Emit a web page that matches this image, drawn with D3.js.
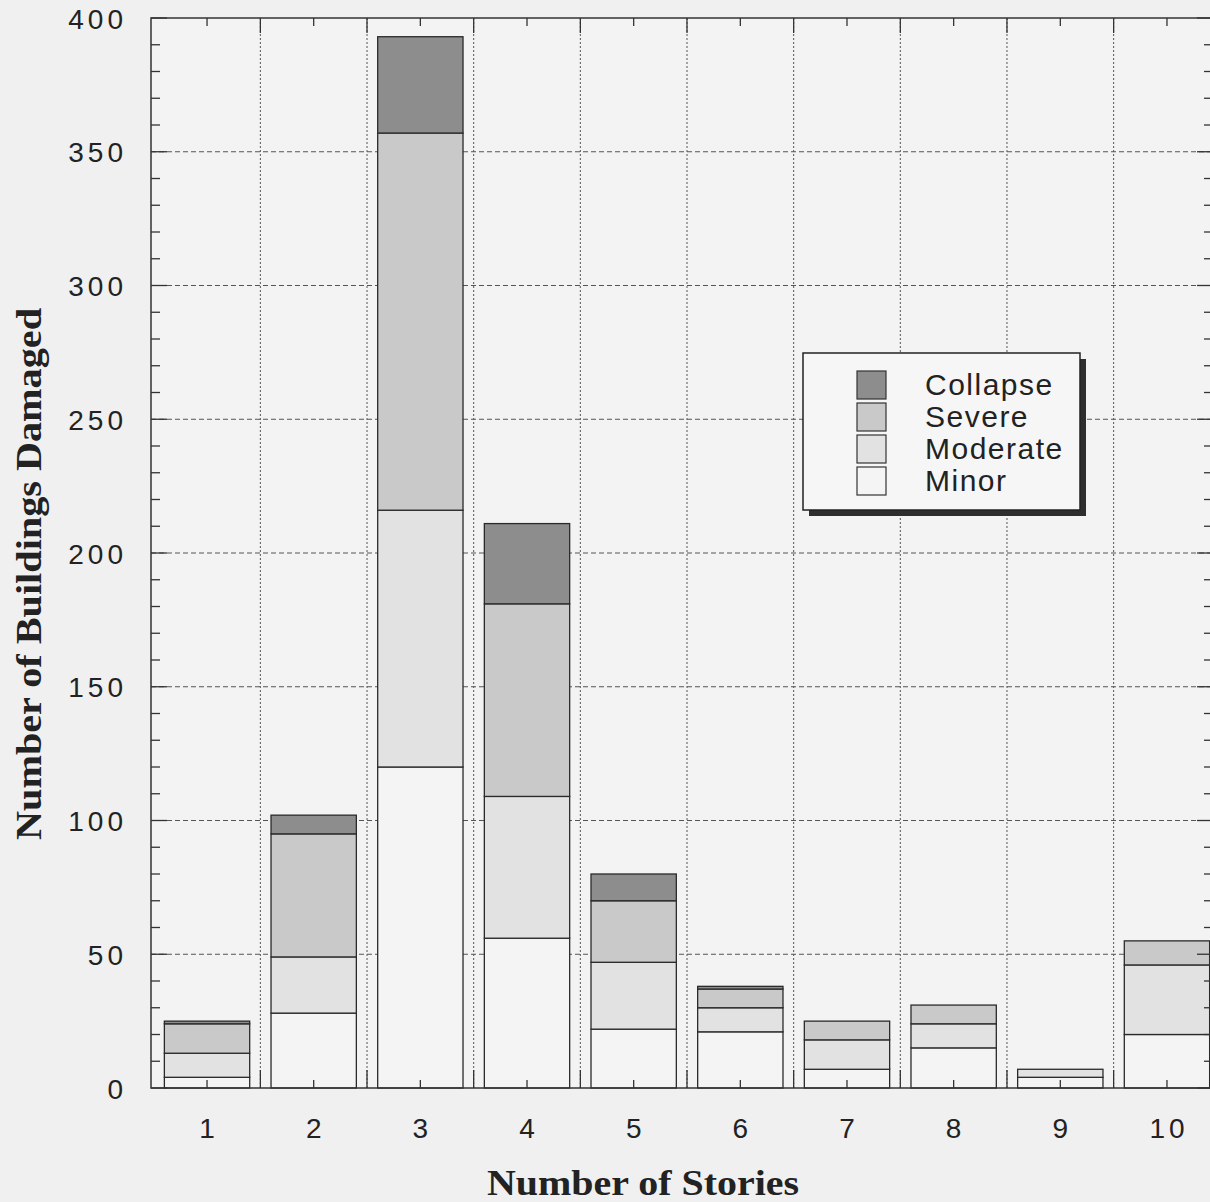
<!DOCTYPE html>
<html>
<head>
<meta charset="utf-8">
<script src="https://cdn.jsdelivr.net/npm/d3@7"></script>
<style>
  html, body { margin: 0; padding: 0; background: #f0f0f0; }
  svg { display: block; }
</style>
</head>
<body>
<script>
// ---- data ----
const categories = ["1", "2", "3", "4", "5", "6", "7", "8", "9", "10"];
const minorValues    = [4, 28, 120, 56, 22, 21, 7, 15, 4, 20];
const moderateValues = [9, 21, 96, 53, 25, 9, 11, 9, 3, 26];
const severeValues   = [11, 46, 141, 72, 23, 7, 7, 7, 0, 9];
const collapseValues = [1, 7, 36, 30, 10, 1, 0, 0, 0, 0];
const seriesKeys = ["Minor", "Moderate", "Severe", "Collapse"];
const legendOrder = ["Collapse", "Severe", "Moderate", "Minor"];
const yTickValues = [0, 50, 100, 150, 200, 250, 300, 350, 400];
const xTitle = "Number of Stories";
const yTitle = "Number of Buildings Damaged";

const rows = categories.map((c, i) => ({
  cat: c,
  Minor: minorValues[i],
  Moderate: moderateValues[i],
  Severe: severeValues[i],
  Collapse: collapseValues[i]
}));

const W = 1210, H = 1202;
const fills = { Collapse: "#8d8d8d", Severe: "#c9c9c9", Moderate: "#e2e2e2", Minor: "#f4f4f4" };

const svg = d3.select("body").append("svg").attr("width", W).attr("height", H);
svg.append("rect").attr("width", W).attr("height", H).attr("fill", "#f0f0f0");

const frameLeft = 151, frameRight = 1213, frameTop = 18, frameBottom = 1088;

const x = d3.scaleBand().domain(categories).range([153.7, 1220.3]).paddingInner(0.2).paddingOuter(0.1);
const y = d3.scaleLinear().domain([0, 400]).range([frameBottom, frameTop]);

const step = x.step();
const boundaryX = c => x(c) - step * x.paddingInner() / 2;
const centerX = c => x(c) + x.bandwidth() / 2;

// plot background
svg.append("rect").attr("x", frameLeft).attr("y", frameTop)
  .attr("width", frameRight - frameLeft).attr("height", frameBottom - frameTop)
  .attr("fill", "#f3f3f3");

// grid
const grid = svg.append("g");
grid.selectAll("line.h").data(yTickValues.filter(v => v > 0 && v < 400)).join("line")
  .attr("x1", frameLeft).attr("x2", frameRight)
  .attr("y1", d => y(d)).attr("y2", d => y(d))
  .attr("stroke", "#555").attr("stroke-width", 1).attr("stroke-dasharray", "5,3");
grid.selectAll("line.v").data(categories.slice(1)).join("line")
  .attr("x1", d => boundaryX(d)).attr("x2", d => boundaryX(d))
  .attr("y1", frameTop).attr("y2", frameBottom)
  .attr("stroke", "#555").attr("stroke-width", 1).attr("stroke-dasharray", "2,2");

// stacked bars
const stacked = d3.stack().keys(seriesKeys)(rows);
const barG = svg.append("g");
stacked.forEach(layer => {
  barG.append("g").selectAll("rect").data(layer.filter(d => d[1] - d[0] > 0)).join("rect")
    .attr("x", d => x(d.data.cat))
    .attr("width", x.bandwidth())
    .attr("y", d => y(d[1]))
    .attr("height", d => y(d[0]) - y(d[1]))
    .attr("fill", fills[layer.key])
    .attr("stroke", "#2a2a2a")
    .attr("stroke-width", 1.3);
});

// frame
svg.append("rect").attr("x", frameLeft).attr("y", frameTop)
  .attr("width", frameRight - frameLeft).attr("height", frameBottom - frameTop)
  .attr("fill", "none").attr("stroke", "#333").attr("stroke-width", 1.5);

// y ticks (minor every 10, major every 50) on both sides, pointing inward
const yMinor = d3.range(0, 401, 10);
const tickG = svg.append("g").attr("stroke", "#333").attr("stroke-width", 1.3);
tickG.selectAll("line.yl").data(yMinor).join("line")
  .attr("x1", frameLeft).attr("x2", d => frameLeft + (d % 50 === 0 ? 16 : 9))
  .attr("y1", d => y(d)).attr("y2", d => y(d));
tickG.selectAll("line.yr").data(yMinor).join("line")
  .attr("x1", frameRight).attr("x2", d => frameRight - (d % 50 === 0 ? 16 : 9))
  .attr("y1", d => y(d)).attr("y2", d => y(d));
// x ticks: short at centers, long at boundaries
tickG.selectAll("line.xb").data(categories).join("line")
  .attr("x1", d => centerX(d)).attr("x2", d => centerX(d))
  .attr("y1", frameBottom).attr("y2", frameBottom - 8);
tickG.selectAll("line.xt").data(categories).join("line")
  .attr("x1", d => centerX(d)).attr("x2", d => centerX(d))
  .attr("y1", frameTop).attr("y2", frameTop + 8);
tickG.selectAll("line.xbb").data(categories.slice(1)).join("line")
  .attr("x1", d => boundaryX(d)).attr("x2", d => boundaryX(d))
  .attr("y1", frameBottom).attr("y2", frameBottom - 18);
tickG.selectAll("line.xtb").data(categories.slice(1)).join("line")
  .attr("x1", d => boundaryX(d)).attr("x2", d => boundaryX(d))
  .attr("y1", frameTop).attr("y2", frameTop + 15);

// y tick labels
const labelFont = "'Liberation Sans', Arial, Helvetica, sans-serif";
const yAxis = d3.axisLeft(y).tickValues(yTickValues).tickSize(0).tickPadding(0);
const yAxisG = svg.append("g").attr("transform", `translate(127,0)`).call(yAxis);
yAxisG.select(".domain").remove();
yAxisG.selectAll("text")
  .attr("font-family", labelFont).attr("font-size", 28).attr("fill", "#222")
  .attr("letter-spacing", "4px").attr("dy", "0.36em");

// x tick labels
const xAxis = d3.axisBottom(x).tickSize(0).tickPadding(0);
const xAxisG = svg.append("g").attr("transform", `translate(2,1118)`).call(xAxis);
xAxisG.select(".domain").remove();
xAxisG.selectAll("text")
  .attr("font-family", labelFont).attr("font-size", 28).attr("fill", "#222")
  .attr("letter-spacing", "4px").attr("dy", "0.72em");

// axis titles
const titleFont = "'Liberation Serif', 'Times New Roman', serif";
svg.append("text").attr("x", 487).attr("y", 1195)
  .attr("font-family", titleFont).attr("font-size", 36).attr("font-weight", "bold")
  .attr("fill", "#222").attr("textLength", 312).attr("lengthAdjust", "spacingAndGlyphs")
  .text(xTitle);
svg.append("text").attr("transform", "translate(41,574) rotate(-90)")
  .attr("text-anchor", "middle")
  .attr("font-family", titleFont).attr("font-size", 36).attr("font-weight", "bold")
  .attr("fill", "#222").attr("textLength", 532).attr("lengthAdjust", "spacingAndGlyphs")
  .text(yTitle);

// legend
const lg = svg.append("g");
const lx = 803, ly = 353, lw = 277, lh = 157;
lg.append("rect").attr("x", lx + 6).attr("y", ly + 6).attr("width", lw).attr("height", lh).attr("fill", "#2e2e2e");
lg.append("rect").attr("x", lx).attr("y", ly).attr("width", lw).attr("height", lh)
  .attr("fill", "#f6f6f6").attr("stroke", "#222").attr("stroke-width", 1.5);
const li = lg.selectAll("g.item").data(legendOrder).join("g")
  .attr("transform", (d, i) => `translate(0,${371 + i * 32})`);
li.append("rect").attr("x", 857).attr("y", 0).attr("width", 29).attr("height", 28)
  .attr("fill", d => fills[d]).attr("stroke", "#333").attr("stroke-width", 1.2);
li.append("text").attr("x", 925).attr("y", 24)
  .attr("font-family", labelFont).attr("font-size", 30).attr("letter-spacing", "1.5px")
  .attr("fill", "#222").text(d => d);
</script>
</body>
</html>
